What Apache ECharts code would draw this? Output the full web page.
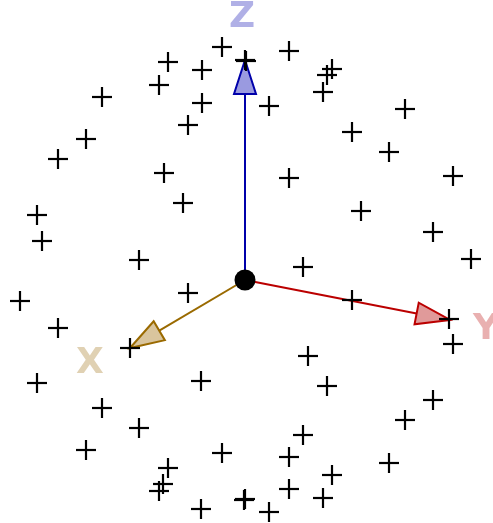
<!DOCTYPE html>
<html>
<head>
<meta charset="utf-8">
<script src="https://cdn.jsdelivr.net/npm/echarts@6/dist/echarts.min.js"></script>
<style>
  html, body { margin: 0; padding: 0; background: #fff; }
  #chart { width: 493px; height: 523px; }
</style>
</head>
<body>
<div id="chart"></div>
<script>
// Projected sample points (screen-plane coordinates, y grows downward)
const pointsX = [
  222, 245, 246, 168, 202, 159, 102, 202, 188, 86, 58, 164,
  289, 332, 327, 323, 269, 405, 352, 389, 289, 453,
  183, 37, 42, 139, 20, 188, 58, 130,
  361, 433, 471, 303, 352, 449, 453,
  37, 102, 139, 201, 86, 222, 168, 163, 159, 201, 245, 244,
  308, 327, 433, 405, 303, 289, 389, 332, 289, 323, 269
];
const pointsY = [
  47, 60, 61, 62, 70, 85, 97, 103, 125, 139, 159, 173,
  51, 69, 75, 92, 106, 109, 132, 152, 178, 176,
  203, 215, 241, 260, 301, 293, 328, 348,
  211, 232, 259, 267, 300, 319, 344,
  383, 408, 428, 381, 450, 453, 468, 484, 491, 509, 499, 500,
  356, 386, 400, 420, 435, 457, 463, 475, 489, 498, 512
];

// Axis triad: origin, arrow tips and label anchors
const axisNames = ['X', 'Y', 'Z'];
const origin = [245, 280];
const tipX = [130, 450, 245];
const tipY = [348, 320, 60];
const labelX = [76, 473, 229];
const labelY = [364, 330, 18];
const lineColors = ['#9a6a00', '#bb0000', '#0000aa'];
const headColors = ['#d9c59e', '#e09a9a', '#9a9ae0'];
const textColors = ['#d8c6a0', '#e39c9c', '#9c9ce0'];

const points = pointsX.map((x, i) => [x, pointsY[i]]);
const arrows = axisNames.map((n, i) => [tipX[i], tipY[i], i]);
const labels = axisNames.map((n, i) => ({
  value: [labelX[i], labelY[i]],
  name: n,
  label: { color: textColors[i] }
}));

const chart = echarts.init(document.getElementById('chart'), null, { renderer: 'canvas' });

const HEAD_LEN = 34, HEAD_HALF = 11;

chart.setOption({
  animation: false,
  backgroundColor: '#ffffff',
  grid: { left: 0, right: 0, top: 0, bottom: 0 },
  xAxis: { type: 'value', min: 0, max: 493, show: false },
  yAxis: { type: 'value', min: 0, max: 523, inverse: true, show: false },
  series: [
    {
      // Axis arrows with triangular heads
      type: 'custom',
      z: 2,
      data: arrows,
      renderItem: function (params, api) {
        const o = api.coord(origin);
        const t = api.coord([api.value(0), api.value(1)]);
        const i = api.value(2);
        const dx = t[0] - o[0], dy = t[1] - o[1];
        const len = Math.sqrt(dx * dx + dy * dy);
        const ux = dx / len, uy = dy / len;
        const bx = t[0] - ux * HEAD_LEN, by = t[1] - uy * HEAD_LEN;
        const px = -uy * HEAD_HALF, py = ux * HEAD_HALF;
        return {
          type: 'group',
          children: [
            {
              type: 'line',
              shape: { x1: o[0], y1: o[1], x2: bx, y2: by },
              style: { stroke: lineColors[i], lineWidth: 2 }
            },
            {
              type: 'polygon',
              shape: { points: [[t[0], t[1]], [bx + px, by + py], [bx - px, by - py]] },
              style: { fill: headColors[i], stroke: lineColors[i], lineWidth: 2, lineJoin: 'miter' }
            }
          ]
        };
      }
    },
    {
      // Origin marker
      type: 'scatter',
      z: 3,
      data: [origin],
      symbol: 'circle',
      symbolSize: 21,
      itemStyle: { color: '#000000', opacity: 1 }
    },
    {
      // Axis labels
      type: 'scatter',
      z: 4,
      data: labels,
      symbolSize: 0,
      label: {
        show: true,
        position: 'inside',
        formatter: p => p.name,
        fontFamily: 'DejaVu Sans',
        fontWeight: 'bold',
        fontSize: 36,
        align: 'left',
        verticalAlign: 'middle'
      }
    },
    {
      // Sample points drawn as plus signs
      type: 'custom',
      z: 5,
      data: points,
      renderItem: function (params, api) {
        const c = api.coord([api.value(0), api.value(1)]);
        const h = 10;
        return {
          type: 'group',
          children: [
            { type: 'line', shape: { x1: c[0] - h, y1: c[1], x2: c[0] + h, y2: c[1] }, style: { stroke: '#000', lineWidth: 2.2 } },
            { type: 'line', shape: { x1: c[0], y1: c[1] - h, x2: c[0], y2: c[1] + h }, style: { stroke: '#000', lineWidth: 2.2 } }
          ]
        };
      }
    }
  ]
});
</script>
</body>
</html>
